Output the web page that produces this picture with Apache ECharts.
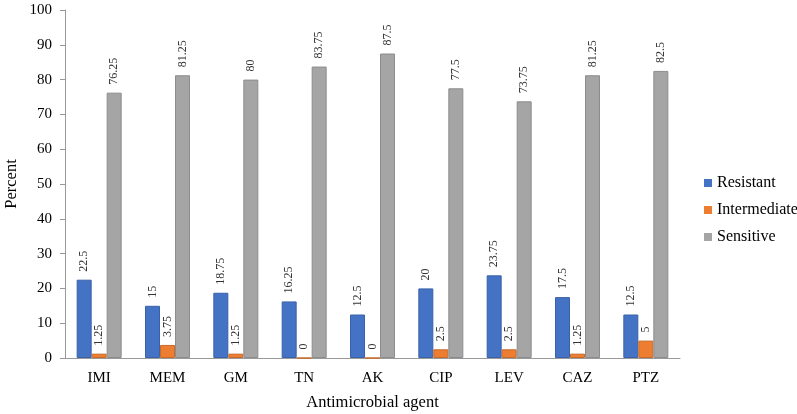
<!DOCTYPE html>
<html><head><meta charset="utf-8">
<script src="https://cdn.jsdelivr.net/npm/echarts@6/dist/echarts.min.js"></script>
<style>html,body{margin:0;padding:0;background:#fff}#c{width:797px;height:414px}</style>
</head><body><div id="c"></div>
<script>
const categories = ['IMI','MEM','GM','TN','AK','CIP','LEV','CAZ','PTZ'];
const resistant = [22.5,15,18.75,16.25,12.5,20,23.75,17.5,12.5];
const intermediate = [1.25,3.75,1.25,0,0,2.5,2.5,1.25,5];
const sensitive = [76.25,81.25,80,83.75,87.5,77.5,73.75,81.25,82.5];
const seriesNames = ['Resistant','Intermediate','Sensitive'];
const yTicks = {min:0,max:100,interval:10};

const serif = 'Liberation Serif';
const lbl = {show:true, position:'top', rotate:90, align:'left', verticalAlign:'middle', distance:8,
  fontFamily:serif, fontSize:12, color:'#333'};
function s(name, data, color, border){
  return {name, type:'bar', data, barWidth:15, barGap:'0%',
    itemStyle:{color, borderColor:border, borderWidth:1},
    label:lbl};
}
const chart = echarts.init(document.getElementById('c'));
chart.setOption({
  animation:false,
  textStyle:{fontFamily:serif},
  grid:{left:65,right:117,top:10,bottom:56, outerBoundsMode:'none', containLabel:false},
  legend:{orient:'vertical', left:704, top:175, padding:0, itemWidth:8, itemHeight:8, itemGap:11,
    icon:'rect', itemStyle:{borderWidth:0},
    textStyle:{fontFamily:serif, fontSize:16, color:'#000'}},
  xAxis:{type:'category', data:categories,
    name:'Antimicrobial agent', nameLocation:'middle', nameGap:36, nameMoveOverlap:false,
    nameTextStyle:{fontFamily:serif, fontSize:16.5, color:'#000'},
    axisLine:{lineStyle:{color:'#999'}}, axisTick:{show:false},
    axisLabel:{fontFamily:serif, fontSize:15, color:'#000', margin:13}},
  yAxis:{type:'value', min:yTicks.min, max:yTicks.max, interval:yTicks.interval,
    name:'Percent', nameLocation:'middle', nameGap:45, nameMoveOverlap:false,
    nameTextStyle:{fontFamily:serif, fontSize:16.5, color:'#000'},
    axisLine:{show:true, lineStyle:{color:'#999'}},
    axisTick:{show:true, length:5, lineStyle:{color:'#999'}},
    splitLine:{show:false},
    axisLabel:{fontFamily:serif, fontSize:15, color:'#000', margin:13}},
  series:[
    s(seriesNames[0], resistant, '#4472C4', '#3A62A8'),
    s(seriesNames[1], intermediate, '#ED7D31', '#C96A2A'),
    s(seriesNames[2], sensitive, '#A5A5A5', '#8C8C8C')
  ]
});
</script></body></html>
